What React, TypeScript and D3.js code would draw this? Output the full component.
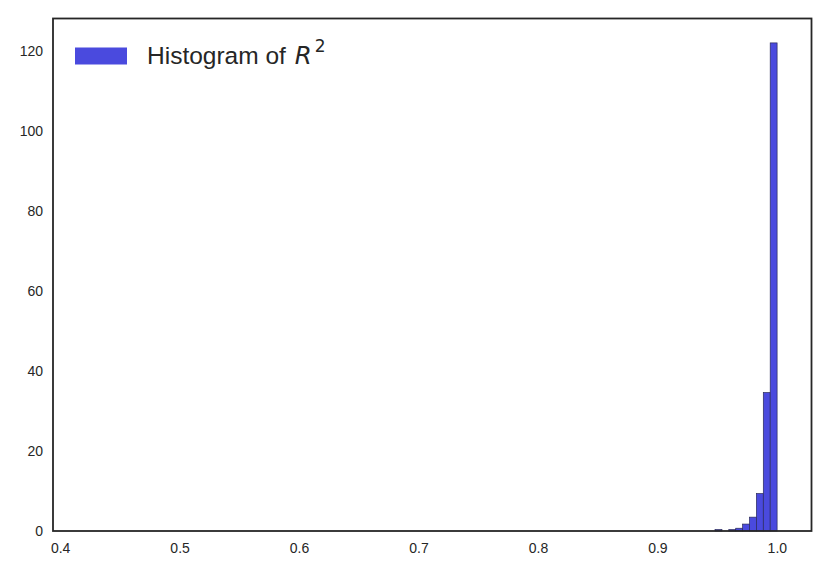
import React from "react";
import * as d3 from "d3";

const xTicks = [0.4, 0.5, 0.6, 0.7, 0.8, 0.9, 1.0];
const yTicks = [0, 20, 40, 60, 80, 100, 120];
const binStart = 0.4224;
const binWidth = 0.005774;
const binIndex = [91, 93, 94, 95, 96, 97, 98, 99];
const density = [0.35, 0.35, 0.69, 1.73, 3.46, 9.35, 34.6, 122.0];
const legendLabel = "Histogram of ";

const W = 830;
const H = 571;
const left = 53;
const right = 811.5;
const top = 18.5;
const bottom = 531;

export default function App() {
  const x = d3.scaleLinear().domain([0.3936, 1.0286]).range([left, right]);
  const y = d3.scaleLinear().domain([0, 128.1]).range([bottom, top]);
  const fill = "#4a4ade";
  const font = "'Liberation Sans', Arial, sans-serif";
  return (
    <svg
      width={W}
      height={H}
      style={{ position: "absolute", left: 0, top: 0, background: "#fff" }}
      fontFamily={font}
    >
      <rect x={0} y={0} width={W} height={H} fill="#fff" />
      {binIndex.map((b, i) => {
        const x0 = x(binStart + b * binWidth);
        const x1 = x(binStart + (b + 1) * binWidth);
        return (
          <rect
            key={b}
            x={x0}
            y={y(density[i])}
            width={x1 - x0}
            height={y(0) - y(density[i])}
            fill={fill}
            stroke="#2a2a5a"
            strokeWidth={0.7}
          />
        );
      })}
      <rect
        x={left}
        y={top}
        width={right - left}
        height={bottom - top}
        fill="none"
        stroke="#262626"
        strokeWidth={1.8}
      />
      {xTicks.map((t) => (
        <text
          key={t}
          x={x(t)}
          y={552.5}
          textAnchor="middle"
          fontSize={14}
          fill="#262626"
        >
          {t.toFixed(1)}
        </text>
      ))}
      {yTicks.map((t) => (
        <text
          key={t}
          x={43}
          y={y(t)}
          dy="0.35em"
          textAnchor="end"
          fontSize={14}
          fill="#262626"
        >
          {t}
        </text>
      ))}
      <rect x={75} y={47.5} width={52} height={17} fill={fill} />
      <text x={147} y={64.3} fontSize={24.5} fill="#262626">
        {legendLabel}
        <tspan fontFamily="'DejaVu Sans', sans-serif" fontStyle="italic" dx={2}>
          R
        </tspan>
        <tspan fontFamily="'DejaVu Sans', sans-serif" fontSize={17} dx={3} dy={-12.6}>
          2
        </tspan>
      </text>
    </svg>
  );
}
